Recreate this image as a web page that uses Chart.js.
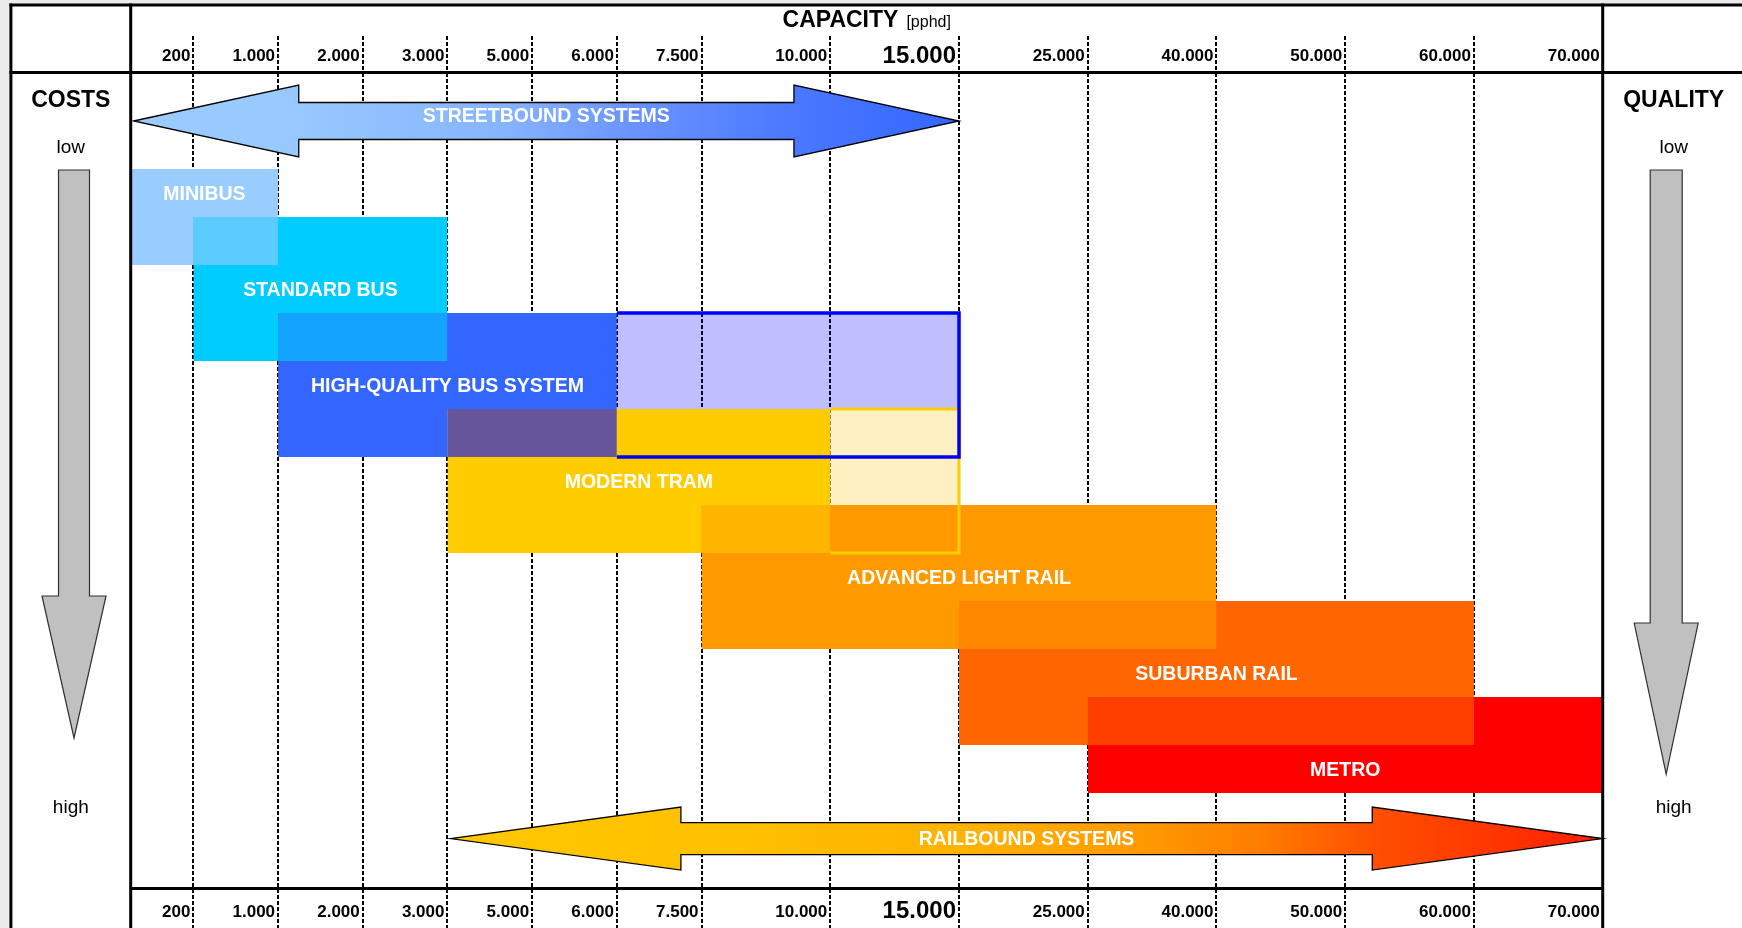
<!DOCTYPE html>
<html>
<head>
<meta charset="utf-8">
<title>Capacity, costs and quality of public transport systems</title>
<script src="https://cdn.jsdelivr.net/npm/chart.js@4.4.1/dist/chart.umd.min.js"></script>
<style>
  html, body { margin: 0; padding: 0; background: #fff; }
  #wrap { width: 1742px; height: 928px; }
</style>
</head>
<body>
<div id="wrap"><canvas id="capacity-chart" width="1742" height="928"></canvas></div>
<script>
// capacity axis [pphd] - the printed scale is not linear, each column has its own width
const capacityBreaks = [0, 200, 1000, 2000, 3000, 5000, 6000, 7500, 10000, 15000, 25000, 40000, 50000, 60000, 70000];
const tickLabels = ['200', '1.000', '2.000', '3.000', '5.000', '6.000', '7.500', '10.000', '15.000', '25.000', '40.000', '50.000', '60.000', '70.000'];
const highlightCapacity = 15000;

// transport systems, capacity range and cost level (0 = low ... 17 = high)
const systems = ['MINIBUS', 'STANDARD BUS', 'HIGH-QUALITY BUS SYSTEM', 'MODERN TRAM', 'ADVANCED LIGHT RAIL', 'SUBURBAN RAIL', 'METRO'];
const capacityFrom = [0, 200, 1000, 3000, 7500, 15000, 25000];
const capacityTo = [1000, 3000, 15000, 15000, 40000, 60000, 70000];
const upperFrom = [null, null, 6000, 10000, null, null, null]; // outlined upper part of the range
const levelFrom = [2, 3, 5, 7, 9, 11, 13];
const levelTo = [4, 6, 8, 10, 12, 14, 15];
const labelLevel = [2.5, 4.5, 6.5, 8.5, 10.5, 12.5, 14.5];

// system groups (the two big arrows)
const groups = ['STREETBOUND SYSTEMS', 'RAILBOUND SYSTEMS'];
const groupFrom = [0, 3000];
const groupTo = [15000, 70000];
const groupLevel = [1, 15.95];

// ---- styles ----
const FONT = "'Liberation Sans', Arial, Helvetica, sans-serif";
const columnWidths = [0.74, 1, 1, 1, 1, 1, 1, 1.52, 1.52, 1.52, 1.52, 1.52, 1.52, 1.52];
const systemColors = ['#99CCFF', '#00CCFF', '#3366FF', '#FFCC00', '#FF9900', '#FF6600', '#FF0000'];
const upperFill = [null, null, 'rgba(0, 0, 255, 0.25)', '#FFF0C2', null, null, null];
const upperEdge = [null, null, '#0000F2', '#FFCC00', null, null, null];
const upperEdgeWidth = [0, 0, 3.5, 3, 0, 0, 0];
const overlapColors = ['#5CCBFF', '#14A3FF', '#665599', '#FFB400', '#FF8700', '#FF3F00'];
const groupStops = [
    [[0, '#9ACCFF'], [0.2, '#97C8FF'], [0.45, '#86B4FF'], [0.6, '#6A95FF'], [0.8, '#4B78FF'], [1, '#3366FF']],
    [[0, '#FFC800'], [0.25, '#FFC000'], [0.45, '#FFB200'], [0.6, '#FF9A00'], [0.7, '#FF7E00'], [0.8, '#FF5000'], [1, '#FF1E00']],
];
const groupHead = [36, 31.5];
const groupShaft = [18.5, 16];
const groupTextDy = [-4.5, 1];

/**
 * Capacity value -> position on the printed axis
 */
const capToX = (v) => {
    let pos = 0;
    for (let i = 1; i < capacityBreaks.length; i++) {
        const a = capacityBreaks[i - 1], b = capacityBreaks[i];
        if (v <= b) return pos + columnWidths[i - 1] * (v - a) / (b - a);
        pos += columnWidths[i - 1];
    }
    return pos;
};

// ---- datasets: every band is the area between two edge lines ----
const solidTo = capacityTo.map((to, i) => upperFrom[i] ?? to);

const band = (x0, x1, y0, y1, color) => [
    { data: [{ x: capToX(x0), y: y0 }, { x: capToX(x1), y: y0 }], fill: false, backgroundColor: color },
    { data: [{ x: capToX(x0), y: y1 }, { x: capToX(x1), y: y1 }], fill: '-1', backgroundColor: color },
];

const layers = [];
systems.forEach((name, i) => {
    layers.push(band(capacityFrom[i], solidTo[i], levelFrom[i], levelTo[i], systemColors[i]));
    if (upperFrom[i] !== null) {
        layers.push(band(upperFrom[i], capacityTo[i], levelFrom[i], levelTo[i], upperFill[i]));
    }
    if (i > 0) {
        // where this band covers the previous one
        const x0 = Math.max(capacityFrom[i - 1], capacityFrom[i]);
        const x1 = Math.min(solidTo[i - 1], solidTo[i]);
        const y0 = Math.max(levelFrom[i - 1], levelFrom[i]);
        const y1 = Math.min(levelTo[i - 1], levelTo[i]);
        if (x1 > x0 && y1 > y0) layers.push(band(x0, x1, y0, y1, overlapColors[i - 1]));
    }
});
// outline of the upper ranges, open towards the solid part
for (let i = systems.length - 1; i >= 0; i--) {
    if (upperFrom[i] === null) continue;
    layers.push([{
        data: [
            { x: capToX(upperFrom[i]), y: levelFrom[i] },
            { x: capToX(capacityTo[i]), y: levelFrom[i] },
            { x: capToX(capacityTo[i]), y: levelTo[i] },
            { x: capToX(upperFrom[i]), y: levelTo[i] },
        ],
        fill: false,
        borderColor: upperEdge[i],
        borderWidth: upperEdgeWidth[i],
    }]);
}

const datasets = [];
layers.forEach((layer, k) => layer.forEach((ds) => datasets.push({
    pointRadius: 0,
    pointHoverRadius: 0,
    borderWidth: 0,
    borderColor: 'rgba(0,0,0,0)',
    tension: 0,
    ...ds,
    order: layers.length - k,
})));

// ---- plugins ----
const paper = {
    id: 'paper',
    beforeDraw(chart) {
        const { ctx, width, height } = chart;
        ctx.save();
        ctx.fillStyle = '#fff';
        ctx.fillRect(0, 0, width, height);
        ctx.fillStyle = '#EBEBEB';
        ctx.fillRect(0, 0, width, 3.6);
        ctx.fillRect(0, 0, 9.4, height);
        ctx.restore();
    },
};

const bandLabels = {
    id: 'bandLabels',
    afterDatasetsDraw(chart) {
        const { ctx, scales: { x, y } } = chart;
        ctx.save();
        ctx.font = `bold 19.5px ${FONT}`;
        ctx.textAlign = 'center';
        ctx.textBaseline = 'middle';

        // group arrows
        groups.forEach((name, g) => {
            const xl = x.getPixelForValue(capToX(groupFrom[g])) + 3;
            const xr = x.getPixelForValue(capToX(groupTo[g]));
            const cy = y.getPixelForValue(groupLevel[g]);
            const head = (xr - xl) * 0.2;
            const hh = groupHead[g], sh = groupShaft[g];
            ctx.beginPath();
            ctx.moveTo(xl, cy);
            ctx.lineTo(xl + head, cy - hh);
            ctx.lineTo(xl + head, cy - sh);
            ctx.lineTo(xr - head, cy - sh);
            ctx.lineTo(xr - head, cy - hh);
            ctx.lineTo(xr, cy);
            ctx.lineTo(xr - head, cy + hh);
            ctx.lineTo(xr - head, cy + sh);
            ctx.lineTo(xl + head, cy + sh);
            ctx.lineTo(xl + head, cy + hh);
            ctx.closePath();
            const grad = ctx.createLinearGradient(xl, 0, xr, 0);
            groupStops[g].forEach(([p, c]) => grad.addColorStop(p, c));
            ctx.fillStyle = grad;
            ctx.fill();
            ctx.lineWidth = 1.3;
            ctx.strokeStyle = '#000';
            ctx.lineJoin = 'miter';
            ctx.stroke();
            ctx.fillStyle = '#fff';
            ctx.fillText(name, (xl + xr) / 2, cy + groupTextDy[g]);
        });

        // system names, centred on the solid part of each band
        ctx.fillStyle = '#fff';
        systems.forEach((name, i) => {
            const x0 = x.getPixelForValue(capToX(capacityFrom[i]));
            const x1 = x.getPixelForValue(capToX(solidTo[i]));
            ctx.fillText(name, (x0 + x1) / 2, y.getPixelForValue(labelLevel[i]) + 1.5);
        });
        ctx.restore();
    },
};

const frame = {
    id: 'frame',
    afterDraw(chart) {
        const { ctx, chartArea: a, width, height } = chart;
        ctx.save();
        ctx.strokeStyle = '#000';
        ctx.lineWidth = 3;
        const line = (x1, y1, x2, y2) => {
            ctx.beginPath();
            ctx.moveTo(x1, y1);
            ctx.lineTo(x2, y2);
            ctx.stroke();
        };
        line(9.4, 5, width, 5);
        line(10.9, 3.6, 10.9, height);
        line(9.4, a.top - 0.5, width, a.top - 0.5);
        line(a.left, 3.6, a.left, height);
        line(a.right, 3.6, a.right, height);
        line(a.left, a.bottom - 0.5, a.right, a.bottom - 0.5);

        // header title
        ctx.fillStyle = '#000';
        ctx.textBaseline = 'alphabetic';
        ctx.textAlign = 'left';
        ctx.font = `bold 23px ${FONT}`;
        const w1 = ctx.measureText('CAPACITY').width;
        ctx.font = `16px ${FONT}`;
        const w2 = ctx.measureText('[pphd]').width;
        const gap = 8;
        const start = (a.left + a.right) / 2 - (w1 + gap + w2) / 2;
        ctx.font = `bold 23px ${FONT}`;
        ctx.fillText('CAPACITY', start, 27);
        ctx.font = `16px ${FONT}`;
        ctx.fillText('[pphd]', start + w1 + gap, 27);

        // side columns
        const leftC = (10.9 + a.left) / 2;
        const rightC = a.right + 71;
        ctx.textAlign = 'center';
        ctx.font = `bold 23px ${FONT}`;
        ctx.fillText('COSTS', leftC, 106.5);
        ctx.fillText('QUALITY', rightC, 106.5);
        ctx.font = `19px ${FONT}`;
        ctx.fillText('low', leftC, 153);
        ctx.fillText('low', rightC, 153);
        ctx.fillText('high', leftC, 813);
        ctx.fillText('high', rightC, 813);

        const downArrow = (cx, top, headY, tipY, shaftHalf, headHalf) => {
            ctx.beginPath();
            ctx.moveTo(cx - shaftHalf, top);
            ctx.lineTo(cx + shaftHalf, top);
            ctx.lineTo(cx + shaftHalf, headY);
            ctx.lineTo(cx + headHalf, headY);
            ctx.lineTo(cx, tipY);
            ctx.lineTo(cx - headHalf, headY);
            ctx.lineTo(cx - shaftHalf, headY);
            ctx.closePath();
            ctx.fillStyle = '#C0C0C0';
            ctx.fill();
            ctx.lineWidth = 1.2;
            ctx.strokeStyle = '#303030';
            ctx.stroke();
        };
        downArrow(74, 170, 596, 738, 15.5, 32);
        downArrow(a.right + 63.5, 170, 623, 774, 16, 32);
        ctx.restore();
    },
};

// ---- axes ----
const capacityAxis = (position, axisHeight, tickLength, labelPadding, onArea) => ({
    type: 'linear',
    position,
    min: 0,
    max: capToX(capacityBreaks[capacityBreaks.length - 1]),
    afterBuildTicks: (scale) => {
        scale.ticks = capacityBreaks.slice(1).map((v) => ({ value: capToX(v) }));
    },
    afterFit: (scale) => {
        scale.height = axisHeight;
    },
    border: { display: false, dash: [4, 2] },
    grid: {
        color: '#000',
        lineWidth: 2,
        drawOnChartArea: onArea,
        drawTicks: true,
        tickLength,
        tickWidth: 2,
        tickBorderDash: [4, 2],
    },
    ticks: {
        autoSkip: false,
        maxRotation: 0,
        minRotation: 0,
        align: 'end',
        labelOffset: -3,
        padding: labelPadding,
        color: '#000',
        callback: (value, index) => tickLabels[index],
        font: (ctx) => capacityBreaks[ctx.index + 1] === highlightCapacity
            ? { size: 24, weight: 'bold', lineHeight: 0.8 }
            : { size: 17, weight: 'bold' },
    },
});

Chart.defaults.font.family = FONT;
Chart.defaults.color = '#000';

new Chart(document.getElementById('capacity-chart'), {
    type: 'line',
    data: { datasets },
    plugins: [paper, bandLabels, frame],
    options: {
        responsive: false,
        devicePixelRatio: 1,
        animation: false,
        layout: { padding: { left: 130.7, right: 139.3, top: 0, bottom: 0 } },
        plugins: {
            legend: { display: false },
            tooltip: { enabled: false },
        },
        scales: {
            x: capacityAxis('top', 73, 37, -30.2, true),
            x2: capacityAxis('bottom', 39, 39, -26.1, false),
            y: { type: 'linear', min: 0, max: 17, reverse: true, display: false },
        },
    },
});
</script>
</body>
</html>
